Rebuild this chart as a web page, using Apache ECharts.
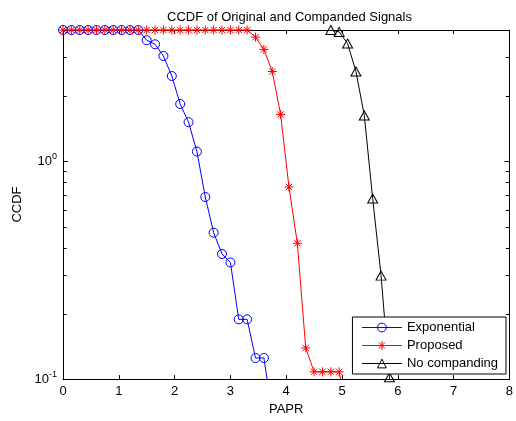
<!DOCTYPE html>
<html>
<head>
<meta charset="utf-8">
<script src="https://cdn.jsdelivr.net/npm/echarts@6/dist/echarts.min.js"></script>
<style>
  html, body { margin: 0; padding: 0; background: #fff; }
  #ccdfChart { width: 516px; height: 421px; }
</style>
</head>
<body>
<div id="ccdfChart"></div>
<script>
// PAPR sample points and CCDF values
var paprExp = [0, 0.15, 0.3, 0.45, 0.6, 0.75, 0.9, 1.05, 1.2, 1.35, 1.5, 1.65, 1.8, 1.95, 2.1, 2.25, 2.4, 2.55, 2.7, 2.85, 3.0, 3.15, 3.3, 3.45, 3.6, 3.75];
var ccdfExp = [4, 4, 4, 4, 4, 4, 4, 4, 4, 4, 3.59, 3.44, 3.04, 2.46, 1.83, 1.51, 1.107, 0.685, 0.47, 0.375, 0.343, 0.188, 0.188, 0.125, 0.125, 0.07];

var paprProp = [0, 0.15, 0.3, 0.45, 0.6, 0.75, 0.9, 1.05, 1.2, 1.35, 1.5, 1.65, 1.8, 1.95, 2.1, 2.25, 2.4, 2.55, 2.7, 2.85, 3.0, 3.15, 3.3, 3.45, 3.6, 3.75, 3.9, 4.05, 4.2, 4.35, 4.5, 4.65, 4.8, 4.95, 5.1];
var ccdfProp = [4, 4, 4, 4, 4, 4, 4, 4, 4, 4, 4, 4, 4, 4, 4, 4, 4, 4, 4, 4, 4, 4, 4, 3.71, 3.26, 2.58, 1.64, 0.761, 0.42, 0.139, 0.108, 0.108, 0.108, 0.108, 0.07];

var paprNone = [4.8, 4.95, 5.1, 5.25, 5.4, 5.55, 5.7, 5.85, 6.0];
var ccdfNone = [4, 3.92, 3.47, 2.58, 1.62, 0.674, 0.2985, 0.102, 0.05];

var xTicks = [0, 1, 2, 3, 4, 5, 6, 7, 8];
var yMajorTicks = [0.1, 1];
var yMinorTicks = [0.2, 0.3, 0.4, 0.5, 0.6, 0.7, 0.8, 0.9, 2, 3];

var fontName = 'Liberation Sans';

function pairs (xs, ys) {
    return xs.map(function (x, i) { return [x, ys[i]] })
}

var chart = echarts.init(document.getElementById('ccdfChart'))

// MATLAB '*' marker
var asterisk = 'path://M0,5L10,5M5,0L5,10M1.5,1.5L8.5,8.5M8.5,1.5L1.5,8.5'

function supLabel (v) {
    var e = Math.round(Math.log(v) / Math.LN10)
    if (Math.abs(Math.log(v) / Math.LN10 - e) > 1e-6) return ''
    return '{b|10}{s|' + e + '}'
}

var axisLineStyle = { color: '#000', width: 1 }

var option = {
    backgroundColor: '#fff',
    animation: false,
    textStyle: { fontFamily: fontName },
    title: {
        text: 'CCDF of Original and Companded Signals',
        left: 162,
        top: 6,
        textStyle: { fontSize: 13, fontWeight: 'normal', color: '#000', fontFamily: fontName }
    },
    grid: { left: 63, right: 6, top: 30, bottom: 41 },
    legend: {
        orient: 'vertical',
        right: 10,
        bottom: 47,
        itemWidth: 40,
        itemHeight: 11,
        itemGap: 5,
        padding: [4, 8, 4, 9],
        borderColor: '#000',
        borderWidth: 1,
        backgroundColor: '#fff',
        borderRadius: 0,
        lineStyle: { width: 1 },
        itemStyle: { borderWidth: 1 },
        textStyle: { fontSize: 13, color: '#000', fontFamily: fontName },
        data: ['Exponential', 'Proposed', 'No companding']
    },
    xAxis: [{
        type: 'value',
        min: 0,
        max: 8,
        interval: 1,
        name: 'PAPR',
        nameLocation: 'middle',
        nameGap: 21,
        nameTextStyle: { fontSize: 13, color: '#000' },
        axisLine: { show: true, onZero: false, lineStyle: axisLineStyle },
        axisTick: { show: true, inside: true, length: 4, lineStyle: axisLineStyle },
        axisLabel: { color: '#000', fontSize: 13, margin: 6 },
        splitLine: { show: false }
    }, {
        type: 'value',
        position: 'top',
        min: 0,
        max: 8,
        interval: 1,
        axisLine: { show: true, onZero: false, lineStyle: axisLineStyle },
        axisTick: { show: true, inside: true, length: 4, lineStyle: axisLineStyle },
        axisLabel: { show: false },
        splitLine: { show: false }
    }],
    yAxis: [{
        type: 'log',
        logBase: 10,
        min: 0.1,
        max: 4,
        name: 'CCDF',
        nameLocation: 'middle',
        nameRotate: 90,
        nameGap: 31,
        nameTextStyle: { fontSize: 13, color: '#000' },
        axisLine: { show: true, onZero: false, lineStyle: axisLineStyle },
        axisTick: { show: false },
        axisLabel: {
            margin: 6,
            showMinLabel: true,
            formatter: supLabel,
            rich: {
                b: { fontSize: 13, color: '#000', fontFamily: fontName },
                s: { fontSize: 9, color: '#000', fontFamily: fontName, padding: [0, 0, 9, 0] }
            }
        },
        splitLine: { show: false }
    }, {
        type: 'log',
        logBase: 10,
        min: 0.1,
        max: 4,
        position: 'right',
        axisLine: { show: true, onZero: false, lineStyle: axisLineStyle },
        axisTick: { show: false },
        axisLabel: { show: false },
        splitLine: { show: false }
    }],
    series: [{
        name: 'Exponential',
        type: 'line',
        data: pairs(paprExp, ccdfExp),
        symbol: 'circle',
        symbolSize: 9,
        clip: true,
        lineStyle: { color: '#0000ff', width: 1 },
        itemStyle: { color: 'rgba(0,0,0,0)', borderColor: '#0000ff', borderWidth: 1 }
    }, {
        name: 'Proposed',
        type: 'line',
        data: pairs(paprProp, ccdfProp),
        symbol: asterisk,
        symbolSize: 9,
        clip: true,
        lineStyle: { color: '#ff0000', width: 1 },
        itemStyle: { color: 'rgba(0,0,0,0)', borderColor: '#ff0000', borderWidth: 1 }
    }, {
        name: 'No companding',
        type: 'line',
        data: pairs(paprNone, ccdfNone),
        symbol: 'triangle',
        symbolSize: [10, 9],
        clip: true,
        lineStyle: { color: '#000000', width: 1 },
        itemStyle: { color: 'rgba(0,0,0,0)', borderColor: '#000000', borderWidth: 1 }
    }]
};

chart.setOption(option)

// log-axis ticks inside the box on both sides, placed through the axis scale
function drawYTicks () {
    var xl = chart.convertToPixel({ xAxisIndex: 0 }, xTicks[0])
    var xr = chart.convertToPixel({ xAxisIndex: 0 }, xTicks[xTicks.length - 1])
    var els = []
    function addTick (v, len) {
        var py = Math.round(chart.convertToPixel({ yAxisIndex: 0 }, v)) + 0.5
        var style = { stroke: '#000', lineWidth: 1 }
        els.push({ type: 'line', silent: true, shape: { x1: xl, y1: py, x2: xl + len, y2: py }, style: style })
        els.push({ type: 'line', silent: true, shape: { x1: xr, y1: py, x2: xr - len, y2: py }, style: style })
    }
    yMajorTicks.forEach(function (v) { addTick(v, 5) })
    yMinorTicks.forEach(function (v) { addTick(v, 3.5) })
    chart.setOption({ graphic: els })
}
drawYTicks()
</script>
</body>
</html>
